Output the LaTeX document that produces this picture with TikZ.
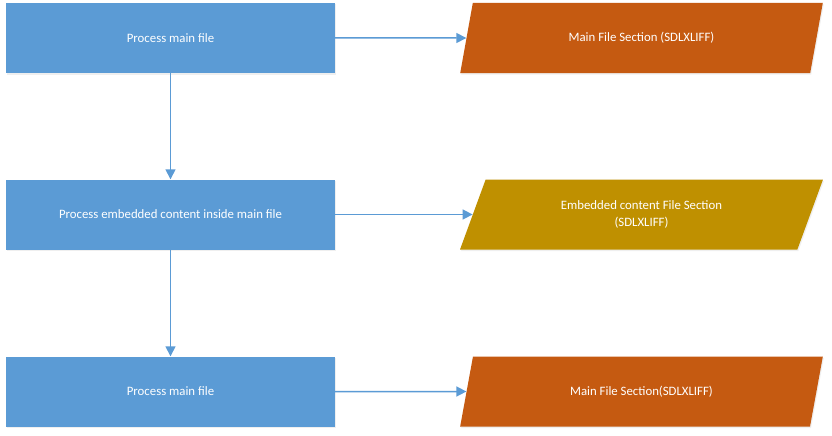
\documentclass[tikz,border=0pt]{standalone}
\usepackage{fontspec}
\setmainfont{Carlito}
\usepackage{xcolor}
\usepackage{tikz}
\usetikzlibrary{shapes.geometric}
\usetikzlibrary{arrows.meta}
\usetikzlibrary{shadows}

\definecolor{boxBlue}{RGB}{91,155,213}
\definecolor{sectOrange}{RGB}{197,90,17}
\definecolor{sectGold}{RGB}{191,144,0}

\tikzset{
  procbox/.style={rectangle, fill=boxBlue, text=white, minimum width=329pt,
    minimum height=70pt, inner sep=0pt, font=\fontsize{12.8}{16}\selectfont,
    drop shadow={opacity=0.12, shadow xshift=1pt, shadow yshift=-1.5pt}},
  sectbox/.style={trapezium, trapezium left angle=64, trapezium right angle=116,
    trapezium stretches=true, minimum width=363pt, minimum height=70pt,
    inner sep=0pt, text=white, align=center, font=\fontsize{12.8}{16.5}\selectfont,
    drop shadow={opacity=0.12, shadow xshift=1pt, shadow yshift=-1.5pt}},
  flow/.style={draw=boxBlue, line width=1.5pt, -{Triangle[length=10pt,width=10pt]}}
}

\begin{document}
\begin{tikzpicture}[x=1pt,y=-1pt]
\definecolor{fillColor}{RGB}{255,255,255}
\path[use as bounding box,fill=fillColor] (0,0) rectangle (832,436);

% process steps
\node[procbox] (procMain) at (170.5, 38) {Process main file};
\node[procbox] (procEmbed) at (170.5,214.5) {Process embedded content inside main file};
\node[procbox] (procMainB) at (170.5,391.5) {Process main file};

% file sections
\node[sectbox, fill=sectOrange] (sectMain) at (641.5, 38) {Main File Section (SDLXLIFF)};
\node[sectbox, fill=sectGold] (sectEmbed) at (641.5,214.5) {Embedded content File Section\\(SDLXLIFF)};
\node[sectbox, fill=sectOrange] (sectMainB) at (641.5,391.5) {Main File Section(SDLXLIFF)};

% connectors
\draw[flow] (procMain) -- (procEmbed);
\draw[flow] (procEmbed) -- (procMainB);
\draw[flow] (procMain) -- (sectMain);
\draw[flow] (procEmbed) -- (sectEmbed);
\draw[flow] (procMainB) -- (sectMainB);
\end{tikzpicture}
\end{document}
